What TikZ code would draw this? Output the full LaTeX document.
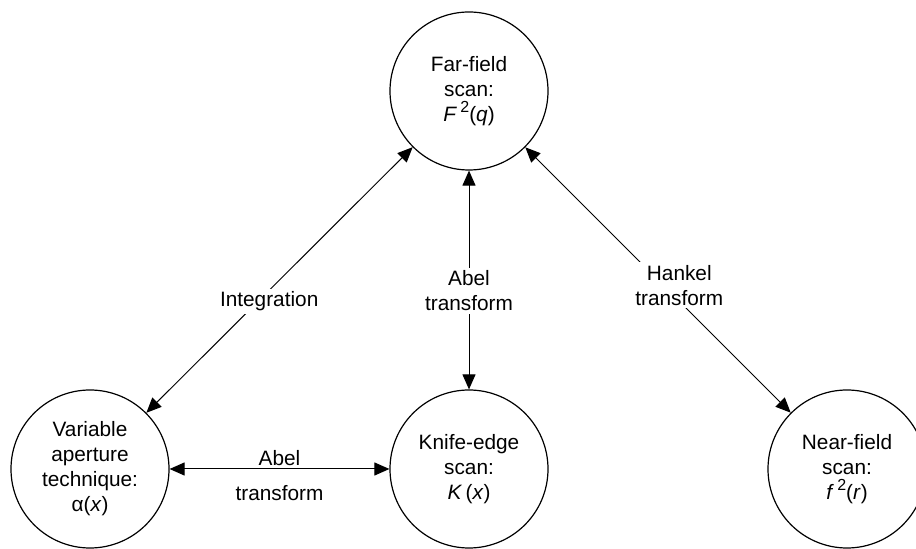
\documentclass[tikz,border=0pt]{standalone}
\usepackage{fontspec}
\setmainfont{Liberation Sans}
\usepackage{tikz}
\usetikzlibrary{positioning,arrows.meta}

\newcommand{\sqtwo}{\raisebox{4.6pt}{\fontsize{8}{8}\selectfont 2}}

\begin{document}
\begin{tikzpicture}[x=0.5pt,y=-0.5pt,node distance=189pt,on grid,
    >={Triangle[length=7.5pt,width=6.5pt]},
    scan/.style={circle,draw,line width=0.6pt,minimum size=79pt,inner sep=0pt,align=center},
    lbl/.style={fill=white,inner sep=1.5pt,align=center},
    every node/.style={font=\fontsize{10.4}{12.5}\selectfont}]
            \useasboundingbox (0,0) rectangle (916,549);
            \node[scan] (far) at (469,91) {Far-field\\scan:\\\textit{F}\,\sqtwo(\textit{q})};
            \node[scan] (knife) [below=of far] {Knife-edge\\scan:\\\textit{K}\,(\textit{x})};
            \node[scan] (var) [left=189.5pt of knife] {Variable\\aperture\\technique:\\α(\textit{x})};
            \node[scan] (near) [right=of knife] {Near-field\\scan:\\\textit{f}\,\sqtwo(\textit{r})};
            \path[<->,line width=0.5pt]
            (var) edge node[lbl,pos=0.42,xshift=5.5pt] {Integration} (far)
            (knife) edge node[lbl,pos=0.45] {Abel\\transform} (far)
            (far) edge node[lbl,pos=0.52,xshift=8pt] {Hankel\\transform} (near)
            (var) edge node[above=1.5pt,inner sep=0pt] {Abel}
                       node[below=8pt,inner sep=0pt] {transform} (knife);
        \end{tikzpicture}
\end{document}
